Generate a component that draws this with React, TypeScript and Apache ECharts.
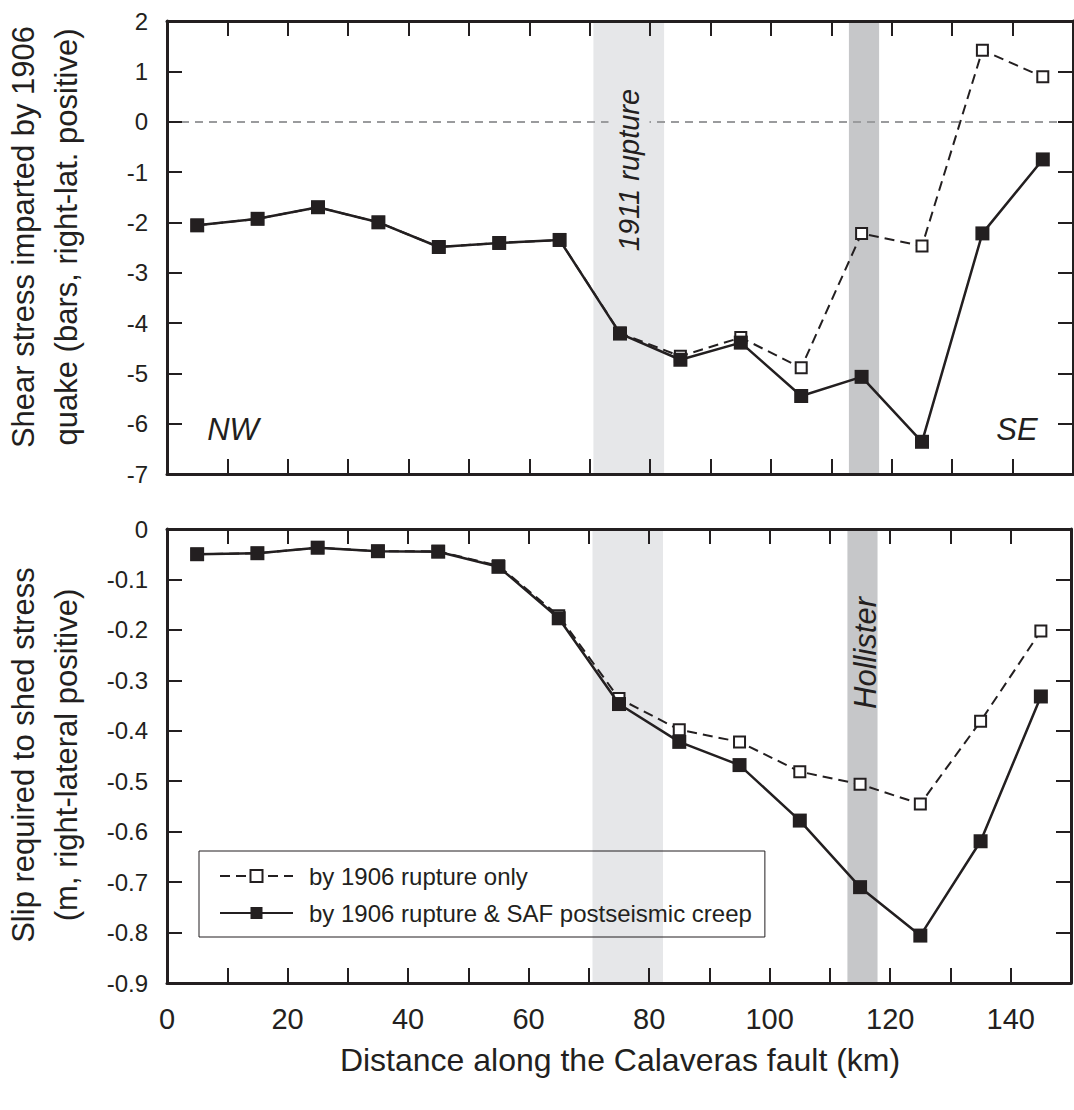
import React, { useEffect, useRef } from "react";
import * as echarts from "echarts";

const distanceKm = [5, 15, 25, 35, 45, 55, 65, 75, 85, 95, 105, 115, 125, 135, 145];
const stressRuptureOnly = [-2.06, -1.93, -1.7, -2.0, -2.49, -2.41, -2.35, -4.2, -4.66, -4.29, -4.89, -2.22, -2.47, 1.42, 0.89];
const stressWithCreep = [-2.06, -1.93, -1.7, -2.0, -2.49, -2.41, -2.35, -4.21, -4.73, -4.39, -5.45, -5.07, -6.36, -2.22, -0.75];
const slipRuptureOnly = [-0.05, -0.048, -0.037, -0.044, -0.044, -0.073, -0.172, -0.336, -0.398, -0.422, -0.481, -0.506, -0.545, -0.381, -0.202];
const slipWithCreep = [-0.05, -0.048, -0.037, -0.044, -0.045, -0.075, -0.177, -0.347, -0.422, -0.468, -0.578, -0.71, -0.806, -0.619, -0.332];
const rupture1911Band = [70.6, 82.3];
const hollisterBand = [112.9, 117.9];
const seriesNames = ["by 1906 rupture only", "by 1906 rupture & SAF postseismic creep"];

const INK = "#231f20";
const FONT = "'Liberation Sans', Arial, Helvetica, sans-serif";

export default function App() {
  const ref = useRef<HTMLDivElement>(null);
  useEffect(() => {
    if (!ref.current) return;
    const chart = echarts.init(ref.current, null, { renderer: "svg" });
    const pair = (xs: number[], ys: number[]) => xs.map((x, i) => [x, ys[i]]);

    const axisLine = { show: true, onZero: false, lineStyle: { color: INK, width: 3 } };
    const axisTick = { show: true, inside: true, length: 15, lineStyle: { color: INK, width: 2 } };
    const xBase = (gridIndex: number, position: string, labels: boolean) => ({
      type: "value",
      gridIndex,
      position,
      min: 0,
      max: 150,
      interval: 10,
      z: 10,
      axisLine,
      axisTick,
      splitLine: { show: false },
      axisLabel: labels
        ? {
            show: true,
            fontSize: 29,
            fontFamily: FONT,
            color: INK,
            margin: 21,
            formatter: (v: number) => (v % 20 === 0 ? String(v) : ""),
          }
        : { show: false },
    });
    const yBase = (gridIndex: number, position: string, labels: boolean, min: number, max: number, interval: number, fmt: (v: number) => string) => ({
      type: "value",
      gridIndex,
      position,
      min,
      max,
      interval,
      z: 10,
      axisLine,
      axisTick,
      splitLine: { show: false },
      axisLabel: labels
        ? { show: true, fontSize: 24, fontFamily: FONT, color: INK, margin: 19, formatter: fmt }
        : { show: false },
    });
    const fmtTop = (v: number) => String(Math.round(v));
    const fmtBot = (v: number) => (Math.abs(v) < 1e-9 ? "0" : v.toFixed(1));

    const bands = {
      silent: true,
      label: { show: false },
      data: [
        [{ xAxis: rupture1911Band[0], itemStyle: { color: "#e6e7e9" } }, { xAxis: rupture1911Band[1] }],
        [{ xAxis: hollisterBand[0], itemStyle: { color: "#c6c7c9" } }, { xAxis: hollisterBand[1] }],
      ],
    };

    const openSeries = (name: string, data: number[][], xi: number, yi: number, extra: any = {}) => ({
      name,
      type: "line",
      xAxisIndex: xi,
      yAxisIndex: yi,
      data,
      symbol: "rect",
      symbolSize: 11,
      lineStyle: { color: INK, width: 2, type: [10, 6] },
      itemStyle: { color: "#ffffff", borderColor: INK, borderWidth: 2 },
      z: 2,
      ...extra,
    });
    const filledSeries = (name: string, data: number[][], xi: number, yi: number) => ({
      name,
      type: "line",
      xAxisIndex: xi,
      yAxisIndex: yi,
      data,
      symbol: "rect",
      symbolSize: 14,
      lineStyle: { color: INK, width: 2.5, type: "solid" },
      itemStyle: { color: INK, borderColor: INK, borderWidth: 0 },
      z: 3,
    });

    const italic = (text: string, x: number, y: number, size: number, rot = 0, extra: any = {}) => ({
      type: "text",
      x,
      y,
      rotation: rot,
      z: 20,
      style: {
        text,
        fill: INK,
        font: `italic ${size}px ${FONT}`,
        align: "center",
        verticalAlign: "middle",
        ...extra,
      },
    });
    const plain = (text: string, x: number, y: number, size: number, rot = 0) => ({
      type: "text",
      x,
      y,
      rotation: rot,
      z: 20,
      style: {
        text,
        fill: INK,
        font: `${size}px ${FONT}`,
        align: "center",
        verticalAlign: "middle",
      },
    });

    chart.setOption({
      animation: false,
      backgroundColor: "#ffffff",
      grid: [
        { left: 167, top: 21, width: 906, height: 453 },
        { left: 167, top: 529, width: 906, height: 454 },
      ],
      xAxis: [xBase(0, "bottom", false), xBase(0, "top", false), xBase(1, "bottom", true), xBase(1, "top", false)],
      yAxis: [
        yBase(0, "left", true, -7, 2, 1, fmtTop),
        yBase(0, "right", false, -7, 2, 1, fmtTop),
        yBase(1, "left", true, -0.9, 0, 0.1, fmtBot),
        yBase(1, "right", false, -0.9, 0, 0.1, fmtBot),
      ],
      legend: {
        left: 199,
        top: 851,
        orient: "vertical",
        data: seriesNames,
        padding: [13, 13, 12, 20],
        itemGap: 13,
        itemWidth: 73,
        itemHeight: 15,
        borderColor: INK,
        borderWidth: 1,
        selectedMode: false,
        textStyle: { fontSize: 24, fontFamily: FONT, color: INK, padding: [0, 0, 0, 11] },
      },
      series: [
        openSeries(seriesNames[0], pair(distanceKm, stressRuptureOnly), 0, 0, {
          markArea: bands,
          markLine: {
            silent: true,
            symbol: "none",
            label: { show: false },
            lineStyle: { color: "#9a9b9d", width: 2, type: [8, 6] },
            data: [{ yAxis: 0 }],
          },
        }),
        filledSeries(seriesNames[1], pair(distanceKm, stressWithCreep), 0, 0),
        openSeries(seriesNames[0], pair(distanceKm, slipRuptureOnly), 2, 2, { markArea: bands }),
        filledSeries(seriesNames[1], pair(distanceKm, slipWithCreep), 2, 2),
      ],
      graphic: [
        plain("Shear stress imparted by 1906", 23, 237, 31, Math.PI / 2),
        plain("quake (bars, right-lat. positive)", 66, 237, 31, Math.PI / 2),
        plain("Slip required to shed stress", 23, 755, 31, Math.PI / 2),
        plain("(m, right-lateral positive)", 66, 755, 31, Math.PI / 2),
        plain("Distance along the Calaveras fault (km)", 620, 1060, 32),
        italic("NW", 233, 429, 31),
        italic("SE", 1017, 429, 31),
        italic("Hollister", 865, 653, 31, Math.PI / 2),
        italic("1911 rupture", 629, 170, 29, Math.PI / 2, {
          backgroundColor: "#e6e7e9",
          padding: [6, 4],
        }),
      ],
    });
    return () => chart.dispose();
  }, []);
  return <div ref={ref} style={{ width: 1074, height: 1110, position: "absolute", left: 0, top: 0 }} />;
}
